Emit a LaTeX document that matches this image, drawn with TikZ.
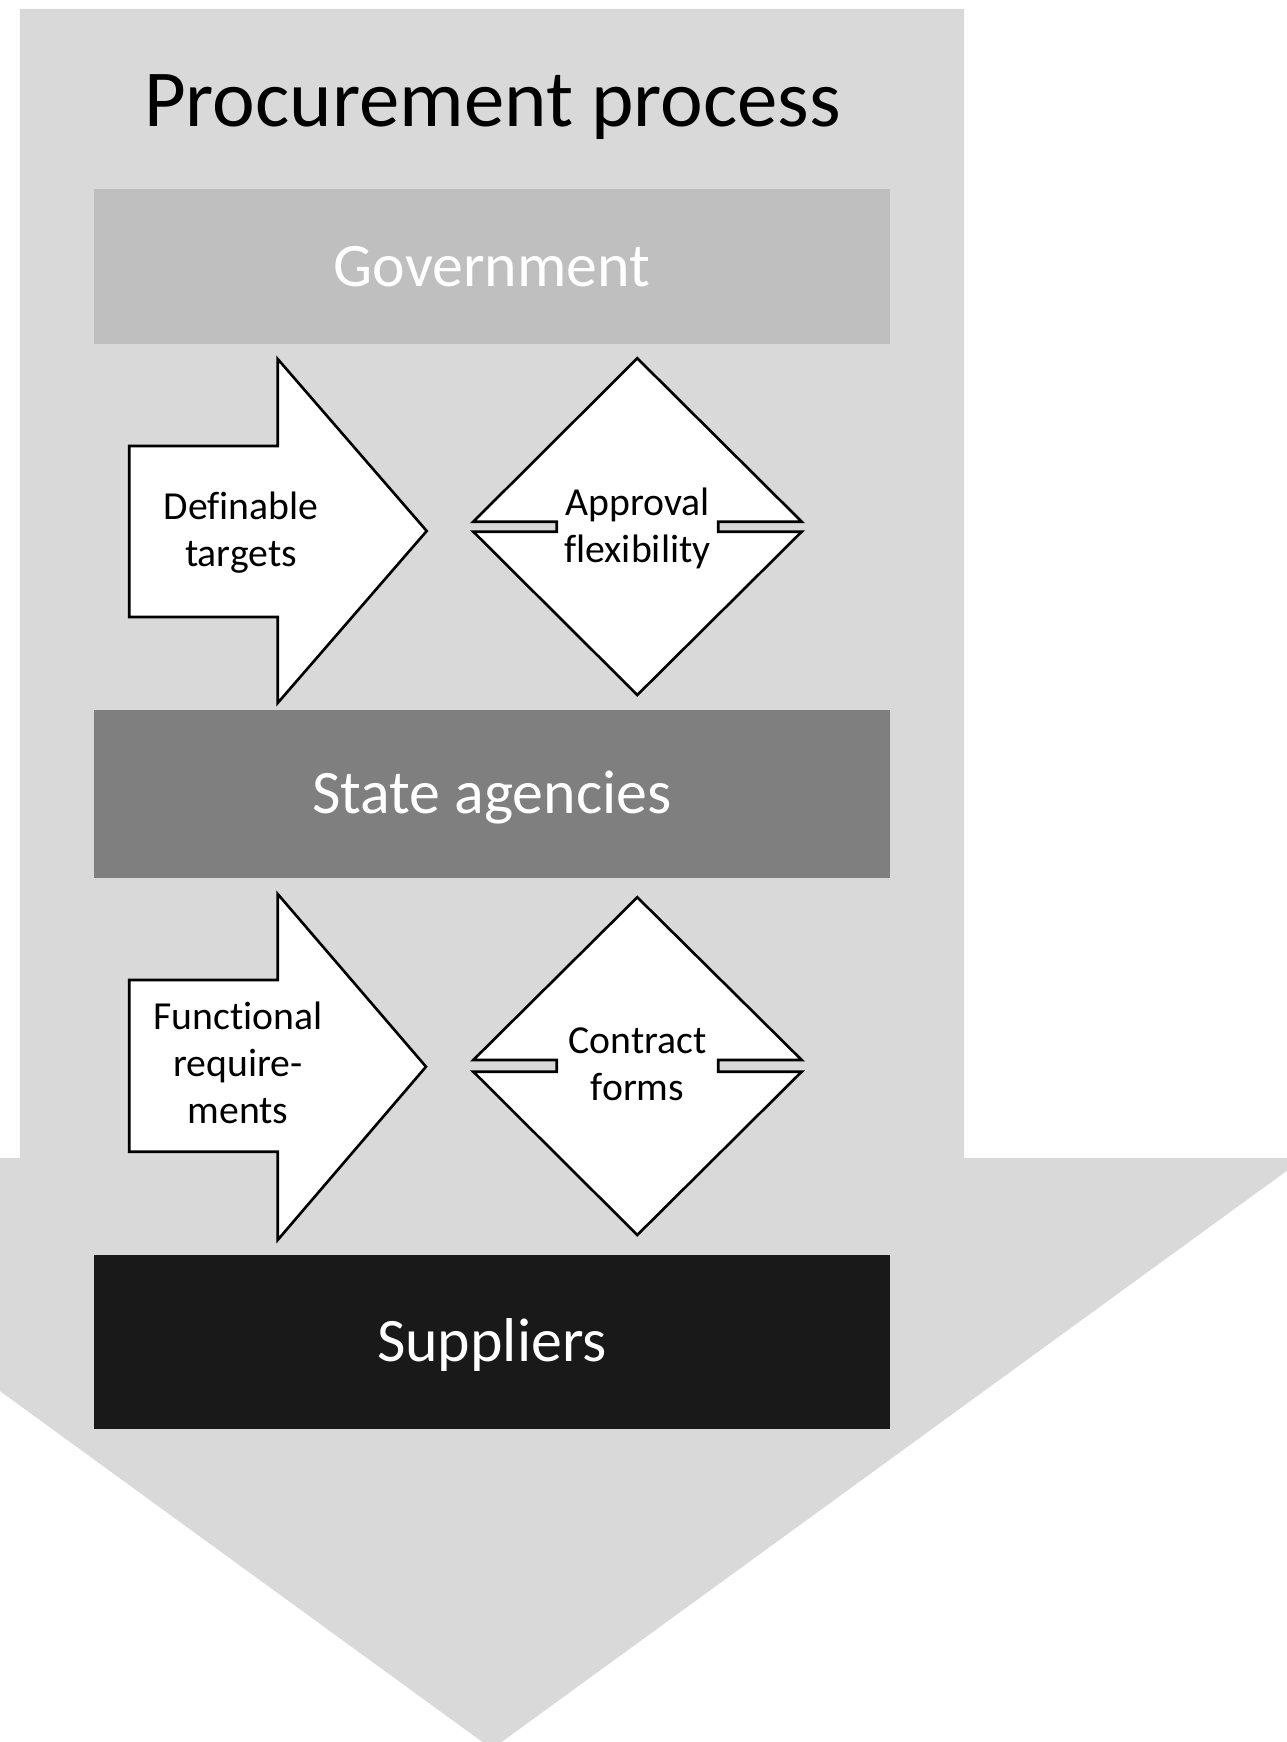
\documentclass[tikz,border=0pt]{standalone}
\usepackage{fontspec}
\setmainfont{Carlito}[Ligatures=NoCommon]
\usepackage{tikz}
\definecolor{shaftgray}{HTML}{D9D9D9}
\definecolor{govgray}{HTML}{BFBFBF}
\definecolor{agencygray}{HTML}{7F7F7F}
\definecolor{supplierblack}{HTML}{191919}
\tikzset{
    every node/.style={inner sep=0mm}
}
\tikzset{box/.style={rectangle, minimum width=7.96cm, text=white, font=\fontsize{17.6}{21}\selectfont, text height=11.1pt, text depth=0pt}}
\tikzset{tag/.style={align=center, anchor=base, font=\fontsize{11.3}{13.4}\selectfont}}
\tikzset{outline/.style={draw, fill=white, line width=0.75pt}}

\begin{document}
\begin{tikzpicture}
  \useasboundingbox (0cm, 0cm) rectangle (12.87cm, 17.42cm);
  \clip (0cm, 0cm) rectangle (12.87cm, 17.42cm);

  % the big downward arrow
  \fill [shaftgray] (0.2cm, 17.33cm) -- (9.64cm, 17.33cm) -- (9.64cm, 5.84cm) -- (13.045cm, 5.84cm)
    -- (4.92cm, -0.07cm) -- (-3.205cm, 5.84cm) -- (0.2cm, 5.84cm) -- cycle;

  \node (title) [anchor=base, font=\fontsize{23}{27}\selectfont] at (4.925cm, 16.15cm) {Procurement process};

  \node (gov) [box, fill=govgray, minimum height=1.55cm] at (4.92cm, 14.755cm) {Government};
  \node (agencies) [box, fill=agencygray, minimum height=1.68cm] at (4.92cm, 9.48cm) {State agencies};
  \node (suppliers) [box, fill=supplierblack, minimum height=1.745cm] at (4.92cm, 4.0cm) {Suppliers};

  % first row
  \draw [outline] (1.293cm, 12.96cm) -- (2.777cm, 12.96cm) -- (2.777cm, 13.83cm) -- (4.267cm, 12.11cm)
    -- (2.777cm, 10.39cm) -- (2.777cm, 11.25cm) -- (1.293cm, 11.25cm) -- cycle;
  \node (targets) [tag] at (2.41cm, 11.75cm) {Definable\\targets};

  \draw [outline] (4.733cm, 12.203cm) -- (6.373cm, 13.837cm) -- (8.017cm, 12.203cm) -- (7.183cm, 12.203cm)
    -- (7.183cm, 12.103cm) -- (8.017cm, 12.103cm) -- (6.373cm, 10.47cm) -- (4.733cm, 12.103cm)
    -- (5.567cm, 12.103cm) -- (5.567cm, 12.203cm) -- cycle;
  \node (approval) [tag] at (6.375cm, 11.793cm) {Approval\\flexibility};

  % second row
  \draw [outline] (1.293cm, 7.62cm) -- (2.777cm, 7.62cm) -- (2.777cm, 8.48cm) -- (4.26cm, 6.753cm)
    -- (2.777cm, 5.02cm) -- (2.777cm, 5.903cm) -- (1.293cm, 5.903cm) -- cycle;
  \node (requirements) [tag] at (2.38cm, 6.18cm) {Functional\\require-\\ments};

  \draw [outline] (4.733cm, 6.82cm) -- (6.373cm, 8.447cm) -- (8.017cm, 6.82cm) -- (7.183cm, 6.82cm)
    -- (7.183cm, 6.703cm) -- (8.017cm, 6.703cm) -- (6.373cm, 5.07cm) -- (4.733cm, 6.703cm)
    -- (5.567cm, 6.703cm) -- (5.567cm, 6.82cm) -- cycle;
  \node (contract) [tag] at (6.375cm, 6.41cm) {Contract\\forms};
\end{tikzpicture}
\end{document}
